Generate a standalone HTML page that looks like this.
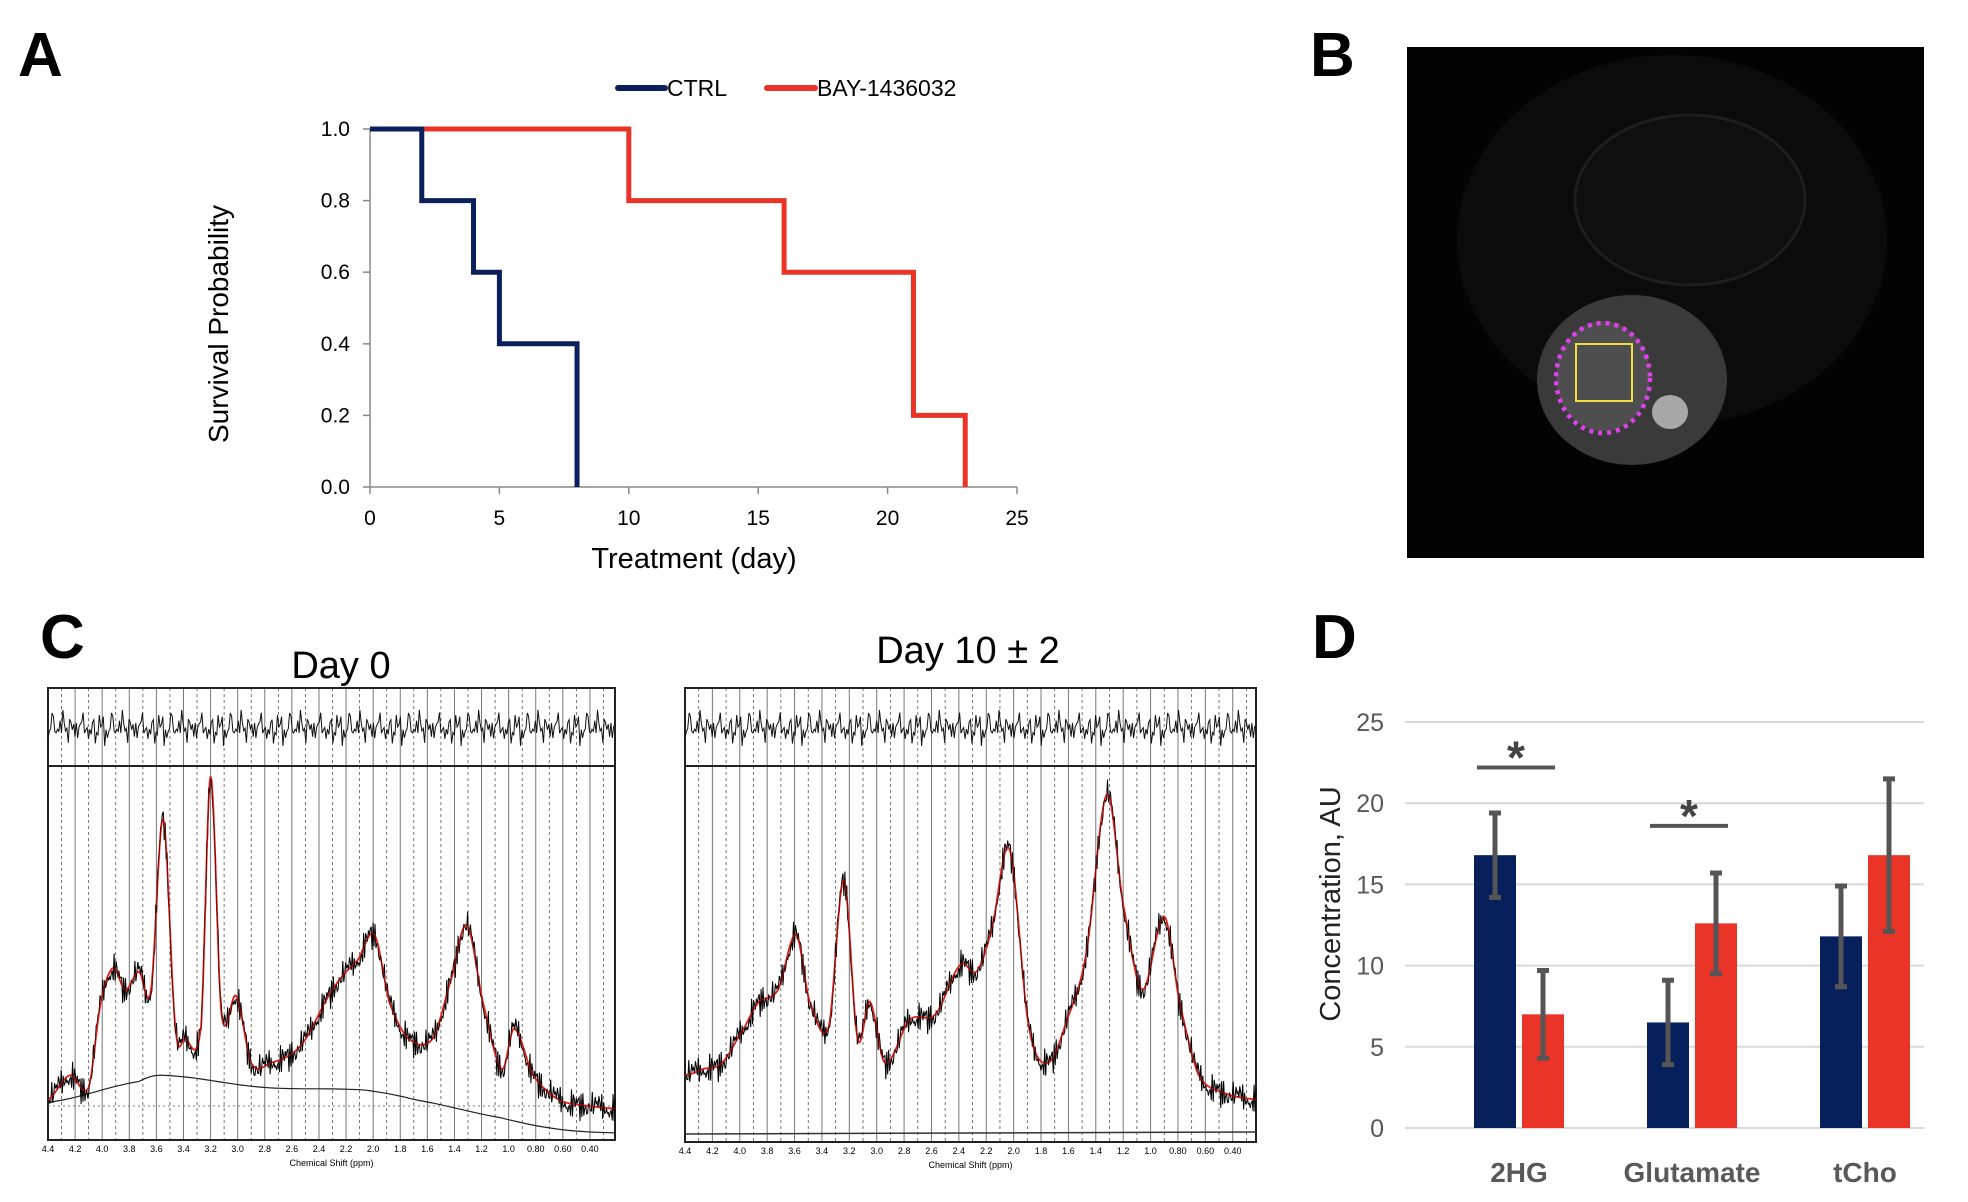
<!DOCTYPE html>
<html><head><meta charset="utf-8"><style>
html,body{margin:0;padding:0;background:#fff;}
svg{display:block;}
text{font-family:"Liberation Sans",sans-serif;}
.nar{font-family:"Liberation Sans Narrow","Liberation Sans",sans-serif;}
</style></head><body>
<svg id="fig" width="1968" height="1202" viewBox="0 0 1968 1202" xmlns="http://www.w3.org/2000/svg">
<g font-weight="bold" font-size="62">
<text x="18" y="76">A</text>
<text x="1310" y="76">B</text>
<text x="40" y="658">C</text>
<text x="1312" y="658">D</text>
</g>
<g id="panelA"></g>
<g id="panelB">
<rect x="1407" y="47" width="517" height="511" fill="#030303"/>
<ellipse cx="1672" cy="240" rx="215" ry="185" fill="#0b0b0b"/>
<ellipse cx="1690" cy="200" rx="115" ry="85" fill="#0f0f0f" stroke="#1e1e1e" stroke-width="3"/>
<ellipse cx="1632" cy="380" rx="95" ry="85" fill="#3a3a3a"/>
<ellipse cx="1603" cy="376" rx="47" ry="55" fill="#4e4e4e"/>
<ellipse cx="1670" cy="412" rx="18" ry="17" fill="#a8a8a8"/>
<ellipse cx="1603" cy="378" rx="47" ry="55" fill="none" stroke="#e040f0" stroke-width="4.5" stroke-dasharray="4,5"/>
<rect x="1576" y="344" width="56" height="57" fill="none" stroke="#f0e040" stroke-width="2"/>
</g>
<g id="panelC"></g>
<g id="panelD"></g>
</svg>
<script>
// ---------- Panel A data ----------
const ctrlTimes=[0,2,4,5,8];
const ctrlSurv=[1,0.8,0.6,0.4,0];
const bayTimes=[0,10,16,21,23];
const baySurv=[1,0.8,0.6,0.2,0];
const aXTicks=[0,5,10,15,20,25];
const aYTicks=["0.0","0.2","0.4","0.6","0.8","1.0"];
// ---------- Panel C data ----------
const s1Ppm=[4.4,4.24,4.1,4.01,3.92,3.83,3.73,3.64,3.55,3.46,3.39,3.27,3.2,3.12,3.01,2.9,2.76,2.53,2.3,2.11,1.99,1.88,1.74,1.56,1.42,1.31,1.19,1.05,0.96,0.82,0.63,0.4,0.215];
const s1Val=[.094,.161,.128,.362,.456,.396,.446,.396,.866,.295,.262,.295,.983,.329,.379,.195,.195,.245,.396,.48,.547,.362,.262,.262,.43,.574,.362,.178,.289,.161,.094,.077,.07];
const s1BasePpm=[4.4,3.73,3.55,2.81,2.07,1.69,1.05,0.63,0.215];
const s1BaseVal=[.087,.144,.161,.128,.121,.094,.044,.013,.003];
const s2Ppm=[4.38,4.27,4.13,3.96,3.86,3.72,3.59,3.49,3.35,3.24,3.14,3.05,2.94,2.76,2.57,2.39,2.27,2.16,2.03,1.89,1.75,1.61,1.47,1.32,1.2,1.06,0.9,0.79,0.65,0.46,0.23];
const s2Val=[.167,.183,.2,.3,.367,.4,.55,.367,.3,.7,.267,.367,.2,.317,.333,.467,.45,.567,.783,.3,.2,.317,.5,.933,.633,.4,.6,.367,.167,.117,.1];
const noise=[0.3,-0.5,0.8,-0.2,-0.9,0.4,1.0,-0.6,0.1,-0.3,0.7,-1.0,0.5,0.2,-0.7,0.9,-0.4,0.0,0.6,-0.8,0.3,-0.1,0.9,-0.5,-0.2,0.7,-0.9,0.4,0.1,-0.6,0.8,-0.3,0.5,-0.7,0.2,1.0,-0.4,0.6,-1.0,0.2,0.4,-0.8,0.9,-0.1];
const ppmTicks=["4.4","4.2","4.0","3.8","3.6","3.4","3.2","3.0","2.8","2.6","2.4","2.2","2.0","1.8","1.6","1.4","1.2","1.0","0.80","0.60","0.40"];
// ---------- Panel D data ----------
const dCats=["2HG","Glutamate","tCho"];
const ctrlConc=[16.8,6.5,11.8];
const ctrlErr=[2.6,2.6,3.1];
const bayConc=[7.0,12.6,16.8];
const bayErr=[2.7,3.1,4.7];
const dYTicks=[0,5,10,15,20,25];
const sigLevels=[22.2,18.6];

const NS="http://www.w3.org/2000/svg";
function mk(parent,tag,attrs,txt){const e=document.createElementNS(NS,tag);for(const k in attrs)e.setAttribute(k,attrs[k]);if(txt!==undefined)e.textContent=txt;parent.appendChild(e);return e;}
const NAVY="#0a1f5c",RED="#ea3427";

// ===== Panel A =====
(function(){
const g=document.getElementById('panelA');
const x=t=>370+(t/25)*(1017-370);
const y=v=>487-v*(487-129);
const ax=mk(g,'path',{d:`M${x(0)},${y(1)} V${y(0)} H${x(25)}`,fill:'none',stroke:'#888','stroke-width':1.5});

aXTicks.forEach(t=>{
 const l=mk(g,'line',{x1:x(t),x2:x(t),y1:y(0),y2:y(0)+7,stroke:'#888','stroke-width':1.5});
 
 const tx=mk(g,'text',{x:x(t),y:525,'text-anchor':'middle','font-size':21,class:'nar'},String(t));
 
});
aYTicks.forEach(s=>{
 const v=parseFloat(s);
 const l=mk(g,'line',{x1:x(0)-7,x2:x(0),y1:y(v),y2:y(v),stroke:'#888','stroke-width':1.5});
 
 const tx=mk(g,'text',{x:350,y:y(v)+7,'text-anchor':'end','font-size':21,class:'nar'},s);
 
});
function step(ts,ss){let d=`M${x(0)},${y(ss[0])}`;for(let i=1;i<ts.length;i++){d+=` H${x(ts[i])} V${y(ss[i])}`;}return d;}
const p2=mk(g,'path',{d:step(bayTimes,baySurv),fill:'none',stroke:RED,'stroke-width':5});

const p1=mk(g,'path',{d:step(ctrlTimes,ctrlSurv),fill:'none',stroke:NAVY,'stroke-width':5});

const yt=mk(g,'text',{x:0,y:0,transform:'translate(228,324) rotate(-90)','text-anchor':'middle','font-size':28},'Survival Probability');

const xt=mk(g,'text',{x:694,y:568,'text-anchor':'middle','font-size':29,class:'nar'},'Treatment (day)');

const l1=mk(g,'line',{x1:618,x2:665,y1:88,y2:88,stroke:NAVY,'stroke-width':6,'stroke-linecap':'round'});

const t1=mk(g,'text',{x:667,y:96,'font-size':23,class:'nar'},'CTRL');

const l2=mk(g,'line',{x1:767,x2:815,y1:88,y2:88,stroke:RED,'stroke-width':6,'stroke-linecap':'round'});

const t2=mk(g,'text',{x:817,y:96,'font-size':23,class:'nar'},'BAY-1436032');

})();

// ===== Panel C =====
function interp(px,pv,q){
 if(q>=px[0])return pv[0]; if(q<=px[px.length-1])return pv[pv.length-1];
 for(let i=0;i<px.length-1;i++){if(q<=px[i]&&q>=px[i+1]){
  const t=(px[i]-q)/(px[i]-px[i+1]);
  const p0=pv[Math.max(0,i-1)],p1=pv[i],p2=pv[i+1],p3=pv[Math.min(pv.length-1,i+2)];
  const t2=t*t,t3=t2*t;
  return 0.5*((2*p1)+(-p0+p2)*t+(2*p0-5*p1+4*p2-p3)*t2+(-p0+3*p1-3*p2+p3)*t3);
 }}
 return 0;
}
function spectrum(id,L,R,top,sep,bot,ppmR,ppmArr,valArr,title,tx,ty,basePpm,baseVal){
 const g=document.getElementById('panelC');
 const sg=mk(g,'g',{});
 
 const X=p=>L+(4.4-p)/(4.4-ppmR)*(R-L);
 const Y=v=>bot-6-v*(bot-sep-10);
 const tt=mk(sg,'text',{x:tx,y:ty,'text-anchor':'middle','font-size':38,class:'nar'},title);
 
 for(let k=0;k<=42;k++){const p=4.4-k*0.1; if(p<ppmR)break; const xx=X(p);
  const gl=mk(sg,'line',{x1:xx,x2:xx,y1:top,y2:bot,stroke:k%2?'#555':'#777','stroke-width':k%2?0.8:1,'stroke-dasharray':k%2?'3,3':'none'});
  }
 const fr=mk(sg,'rect',{x:L,y:top,width:R-L,height:bot-top,fill:'none',stroke:'#222','stroke-width':2});
 
 const sl=mk(sg,'line',{x1:L,x2:R,y1:sep,y2:sep,stroke:'#222','stroke-width':2});
 
 let d='';const N=420;
 for(let i=0;i<=N;i++){const xx=L+i*(R-L)/N;const n=noise[i%noise.length]*0.7+noise[(i*7+5)%noise.length]*0.6+noise[(i*13+2)%noise.length]*0.4;d+=(i?'L':'M')+xx.toFixed(1)+','+((top+sep)/2+n*14).toFixed(1);}
 const rl=mk(sg,'path',{d,fill:'none',stroke:'#111','stroke-width':1});
 
 if(basePpm){let bd='';for(let i=0;i<=100;i++){const p=4.4-i*(4.4-ppmR)/100;bd+=(i?'L':'M')+X(p).toFixed(1)+','+Y(interp(basePpm,baseVal,p)).toFixed(1);}
  const bl=mk(sg,'path',{d:bd,fill:'none',stroke:'#222','stroke-width':1.2});
  
  const hl=mk(sg,'line',{x1:L,x2:R,y1:Y(0.077),y2:Y(0.077),stroke:'#777','stroke-width':1,'stroke-dasharray':'2,3'});
  
 } else {
  const hl=mk(sg,'line',{x1:L,x2:R,y1:bot-8,y2:bot-10,stroke:'#333','stroke-width':1.5});
  
 }
 let dd='',fd='';const M=600;
 for(let i=0;i<=M;i++){const p=4.4-i*(4.4-ppmR)/M;const v=interp(ppmArr,valArr,p);
  const n=noise[i%noise.length]*0.6+noise[(i*5+3)%noise.length]*0.5+noise[(i*11+7)%noise.length]*0.4;
  dd+=(i?'L':'M')+X(p).toFixed(1)+','+(Y(v)+n*14).toFixed(1);
  fd+=(i?'L':'M')+X(p).toFixed(1)+','+Y(v).toFixed(1);}
 const dl=mk(sg,'path',{d:dd,fill:'none',stroke:'#000','stroke-width':1});
 
 const fl=mk(sg,'path',{d:fd,fill:'none',stroke:'#e0201a','stroke-width':1.8});
 
 const dl2=mk(sg,'path',{d:dd,fill:'none',stroke:'#000','stroke-width':0.7,opacity:0.7});
 
 ppmTicks.forEach(s=>{const t=mk(sg,'text',{x:X(parseFloat(s)),y:bot+12,'text-anchor':'middle','font-size':9,class:'nar'},s);
  });
 const xt=mk(sg,'text',{x:(L+R)/2,y:bot+26,'text-anchor':'middle','font-size':9,class:'nar'},'Chemical Shift (ppm)');
 
}
spectrum('spectrum-day0',48,615,688,766,1140,0.215,s1Ppm,s1Val,'Day 0',341,678,s1BasePpm,s1BaseVal);
spectrum('spectrum-day10',685,1256,688,766,1142,0.23,s2Ppm,s2Val,'Day 10 ± 2',968,663,null,null);

// ===== Panel D =====
(function(){
const g=document.getElementById('panelD');
const Y=v=>1128-v/25*(1128-722);
const cx=[1519,1692,1865];
dYTicks.forEach(t=>{
 const l=mk(g,'line',{x1:1405,x2:1924,y1:Y(t),y2:Y(t),stroke:'#d9d9d9','stroke-width':2});
 
 const tx=mk(g,'text',{x:1384,y:Y(t)+9,'text-anchor':'end','font-size':25,fill:'#595959'},String(t));
 
});
const yt=mk(g,'text',{x:0,y:0,transform:'translate(1340,904) rotate(-90)','text-anchor':'middle','font-size':29,fill:'#222'},'Concentration, AU');

dCats.forEach((c,i)=>{
 const b1=mk(g,'rect',{x:cx[i]-45,y:Y(ctrlConc[i]),width:42,height:Y(0)-Y(ctrlConc[i]),fill:'#071f5a'});
 
 const b2=mk(g,'rect',{x:cx[i]+3,y:Y(bayConc[i]),width:42,height:Y(0)-Y(bayConc[i]),fill:RED});
 
 [[cx[i]-24,ctrlConc[i],ctrlErr[i],'ctrl'],[cx[i]+24,bayConc[i],bayErr[i],'bay']].forEach(([xx,v,e,s])=>{
  const eg=mk(g,'path',{d:`M${xx},${Y(v-e)} V${Y(v+e)} M${xx-6},${Y(v+e)} H${xx+6} M${xx-6},${Y(v-e)} H${xx+6}`,stroke:'#555','stroke-width':5,fill:'none'});
  
 });
 const tx=mk(g,'text',{x:cx[i],y:1182,'text-anchor':'middle','font-size':28,'font-weight':'bold',fill:'#595959'},c);
 
});
sigLevels.forEach((lv,i)=>{
 const l=mk(g,'line',{x1:cx[i]-42,x2:cx[i]+36,y1:Y(lv),y2:Y(lv),stroke:'#555','stroke-width':4});
 
 const s=mk(g,'text',{x:cx[i]-3,y:Y(lv)+6,'text-anchor':'middle','font-size':46,'font-weight':'bold',fill:'#444'},'*');
 
});
})();
</script>
</body></html>
